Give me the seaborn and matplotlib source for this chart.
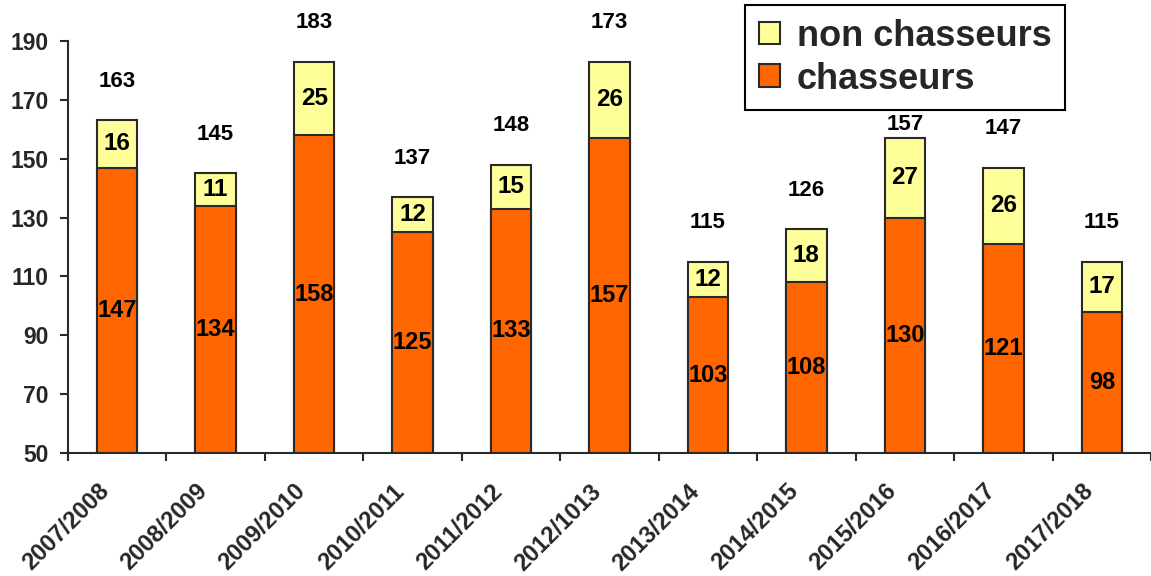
import numpy as np
import pandas as pd
import matplotlib
matplotlib.use("Agg")
import matplotlib.pyplot as plt
import matplotlib.transforms as mtransforms
import seaborn as sns
from matplotlib.patches import Patch

# Season data
seasons = ["2007/2008", "2008/2009", "2009/2010", "2010/2011", "2011/2012",
           "2012/1013", "2013/2014", "2014/2015", "2015/2016", "2016/2017", "2017/2018"]
chasseurs = [147, 134, 158, 125, 133, 157, 103, 108, 130, 121, 98]
non_chasseurs = [16, 11, 25, 12, 15, 26, 12, 18, 27, 26, 17]
total_labels = [163, 145, 183, 137, 148, 173, 115, 126, 157, 147, 115]
y_ticks = [50, 70, 90, 110, 130, 150, 170, 190]

sns.set_theme(style="white")
plt.rcParams["font.family"] = ["Liberation Sans", "DejaVu Sans"]
plt.rcParams["font.weight"] = "bold"

ORANGE = "#FF6600"
YELLOW = "#FFFF99"
EDGE = "#2a2a2a"

df = pd.DataFrame({"saison": seasons, "chasseurs": chasseurs,
                   "non_chasseurs": non_chasseurs})
df["total"] = df["chasseurs"] + df["non_chasseurs"]

W, H = 1151, 576
fig = plt.figure(figsize=(W / 100, H / 100), dpi=100)
ax = fig.add_axes([68 / W, 123 / H, 1 - 68 / W, 412 / H])

# stacked bars: full height in yellow, hunters part in orange over it
sns.barplot(data=df, x="saison", y="total", color=YELLOW, saturation=1,
            width=0.41, edgecolor=EDGE, linewidth=1.5, ax=ax)
sns.barplot(data=df, x="saison", y="chasseurs", color=ORANGE, saturation=1,
            width=0.41, edgecolor=EDGE, linewidth=1.5, ax=ax)

ymin, ymax = y_ticks[0], y_ticks[-1]
ax.set_ylim(ymin, ymax)
ax.set_xlim(-0.5, 10.44)
ax.set_xlabel("")
ax.set_ylabel("")

# axes styling
for side in ["top", "right"]:
    ax.spines[side].set_visible(False)
for side in ["left", "bottom"]:
    ax.spines[side].set_color(EDGE)
    ax.spines[side].set_linewidth(1.5)

ax.set_yticks(y_ticks)
ax.set_yticklabels([str(v) for v in y_ticks], fontsize=16.5, fontweight="bold")
ax.tick_params(axis="y", which="major", left=True, length=6, width=1.5,
               color=EDGE, pad=8, direction="out")

ax.set_xticks(range(len(seasons)))
ax.set_xticklabels(seasons, fontsize=17, fontweight="bold")
ax.set_xticks(np.arange(len(seasons) + 1) - 0.5, minor=True)
ax.tick_params(axis="x", which="major", length=0, pad=25)
ax.tick_params(axis="x", which="minor", bottom=True, length=6, width=1.5,
               color=EDGE, direction="out")
shift_left = mtransforms.ScaledTranslation(-0.12, 0, fig.dpi_scale_trans)
for lab in ax.get_xticklabels():
    lab.set_rotation(45)
    lab.set_ha("right")
    lab.set_va("center")
    lab.set_rotation_mode("anchor")
    lab.set_transform(lab.get_transform() + shift_left)

# values inside the segments
for i, (c, n) in enumerate(zip(chasseurs, non_chasseurs)):
    ax.text(i, (ymin + c) / 2, str(c), ha="center", va="center",
            fontsize=17, fontweight="bold", color="black")
    ax.text(i, c + n / 2, str(n), ha="center", va="center", fontsize=17.5,
            fontweight="bold", color="black")

# legend
handles = [Patch(facecolor=YELLOW, edgecolor=EDGE, linewidth=1.5, label="non chasseurs"),
           Patch(facecolor=ORANGE, edgecolor=EDGE, linewidth=1.5, label="chasseurs")]
leg = ax.legend(handles=handles, loc="upper left",
                bbox_to_anchor=(745 / W, 1 - 5 / H), bbox_transform=fig.transFigure,
                fontsize=26, frameon=True, fancybox=False, framealpha=1,
                handlelength=0.6, handleheight=0.6, handletextpad=0.45,
                labelspacing=0.22, borderpad=0.38, borderaxespad=0)
leg.get_frame().set_edgecolor("black")
leg.get_frame().set_linewidth(1.5)
for t in leg.get_texts():
    t.set_fontweight("bold")

# totals above each bar
total_texts = []
for i, (c, n, lab) in enumerate(zip(chasseurs, non_chasseurs, total_labels)):
    t = ax.annotate(str(lab), xy=(i, c + n), xytext=(0, 28),
                    textcoords="offset points", ha="center", va="center",
                    fontsize=16, fontweight="bold", color="black",
                    annotation_clip=False)
    total_texts.append(t)

# keep totals clear of the legend box
fig.canvas.draw()
leg_bb = leg.get_window_extent()
for t in total_texts:
    bb = t.get_window_extent()
    if bb.overlaps(leg_bb):
        shift = (leg_bb.y0 - bb.y1 - 4) * 72 / fig.dpi
        x, y = t.xyann
        t.xyann = (x, y + shift)

fig.savefig("out.png", dpi=100)
